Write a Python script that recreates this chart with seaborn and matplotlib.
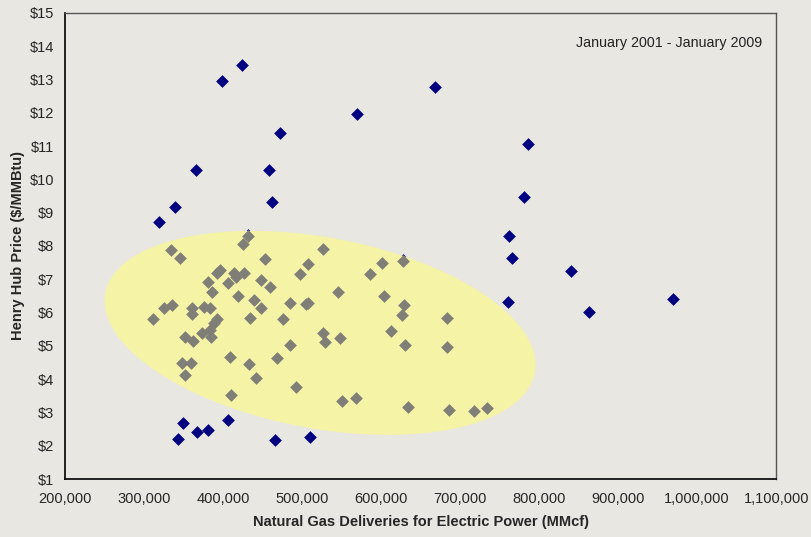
import numpy as np
import pandas as pd
import seaborn as sns
import matplotlib.pyplot as plt

# deliveries (MMcf) and Henry Hub price ($/MMBtu)
blue_x = [318700, 339600, 365800, 398600, 424200, 472700, 457600, 461500, 569700, 668000,
          785400, 780800, 762000, 766000, 839800, 760000, 862700, 968900, 628000, 432000,
          404600, 349500, 343600, 366500, 381600, 406700, 465700, 509800]
blue_y = [8.72, 9.17, 10.28, 12.97, 13.43, 11.38, 10.29, 9.32, 11.98, 12.77,
          11.06, 9.46, 8.31, 7.64, 7.25, 6.31, 6.03, 6.41, 7.58, 8.34,
          3.41, 2.67, 2.20, 2.41, 2.46, 2.78, 2.16, 2.27]

grey_x = [312000, 325000, 335000, 334000, 345500, 351500, 347500, 360000, 351500, 362500,
          360500, 361000, 374000, 376000, 383500, 380500, 385500, 383000, 384500, 389000,
          393000, 392000, 396600, 406600, 408700, 410000, 413700, 416500, 418500, 425000,
          426000, 432000, 434700, 433500, 439300, 442300, 448000, 448000, 453000, 459500,
          467700, 476400, 484800, 484400, 492200, 497300, 507000, 504500, 508000, 527000,
          527000, 529000, 545000, 548500, 551000, 568000, 586500, 601800, 603500, 612000,
          628000, 629500, 626000, 630000, 634000, 683000, 683000, 686500, 717000, 733500]
grey_y = [5.81, 6.14, 6.22, 7.87, 7.64, 5.27, 4.49, 4.48, 4.11, 5.15,
          6.15, 5.95, 5.40, 6.17, 6.14, 6.91, 6.62, 5.47, 5.28, 5.70,
          5.81, 7.19, 7.29, 6.88, 4.67, 3.51, 7.18, 7.08, 6.50, 8.06,
          7.19, 8.30, 5.83, 4.44, 6.37, 4.02, 6.14, 6.99, 7.60, 6.77,
          4.63, 5.80, 6.30, 5.03, 3.75, 7.15, 7.45, 6.26, 6.29, 7.92,
          5.40, 5.12, 6.62, 5.25, 3.33, 3.43, 7.17, 7.50, 6.51, 5.45,
          7.55, 6.22, 5.94, 5.04, 3.15, 5.84, 4.97, 3.06, 3.04, 3.13]

x_ticks = np.arange(200000, 1100001, 100000)
y_ticks = np.arange(1, 16)

bg = '#e8e7e1'
sns.set_style('white')
plt.rcParams['font.family'] = ['Liberation Sans Narrow', 'Liberation Sans', 'DejaVu Sans']

fig = plt.figure(figsize=(8.11, 5.37), dpi=100, facecolor=bg)
ax = fig.add_axes([0.0801, 0.108, 0.877, 0.8678])
ax.set_facecolor(bg)

blue = pd.DataFrame({'x': blue_x, 'y': blue_y})
grey = pd.DataFrame({'x': grey_x, 'y': grey_y})

sns.scatterplot(data=blue, x='x', y='y', marker='D', s=42, color='#000080',
                linewidth=0, ax=ax, zorder=3)

# highlight ellipse (tilted in screen space, so build it in pixel units)
px_x = 900000 / 711.0   # MMcf per pixel
px_y = 14 / 466.0       # $ per pixel
t = np.linspace(0, 2 * np.pi, 300)
a, b, phi = 218.4, 95.5, np.deg2rad(-10.5)
ex = 522800 + (a * np.cos(t) * np.cos(phi) - b * np.sin(t) * np.sin(phi)) * px_x
ey = 5.39 + (a * np.cos(t) * np.sin(phi) + b * np.sin(t) * np.cos(phi)) * px_y
ax.fill(ex, ey, color='#f5f3a6', lw=0, zorder=4)

sns.scatterplot(data=grey, x='x', y='y', marker='D', s=42, color='#7f7f77',
                linewidth=0, ax=ax, zorder=5)

ax.set_xlim(200000, 1100000)
ax.set_ylim(1, 15)
ax.set_xticks(x_ticks)
ax.set_xticklabels([f'{v:,}' for v in x_ticks])
ax.set_yticks(y_ticks)
ax.set_yticklabels([f'${v}' for v in y_ticks])
ax.tick_params(axis='both', direction='out', length=4, width=1, color='black',
               labelsize=10.5, pad=4)
ax.tick_params(axis='x', pad=5)

for side in ['left', 'bottom']:
    ax.spines[side].set_color('black')
    ax.spines[side].set_linewidth(1.2)
for side in ['top', 'right']:
    ax.spines[side].set_color('#555555')
    ax.spines[side].set_linewidth(1.0)

ax.set_xlabel('Natural Gas Deliveries for Electric Power (MMcf)', fontsize=10.5,
              fontweight='bold', labelpad=7)
ax.set_ylabel('Henry Hub Price ($/MMBtu)', fontsize=10.5, fontweight='bold',
              family=['Liberation Sans', 'DejaVu Sans'], labelpad=3)

ax.text(0.98, 0.935, 'January 2001 - January 2009', transform=ax.transAxes,
        ha='right', va='center', fontsize=10.3, family=['Liberation Sans', 'DejaVu Sans'],
        color='#222222', zorder=6)

plt.savefig('out.png', dpi=100, facecolor=bg)
